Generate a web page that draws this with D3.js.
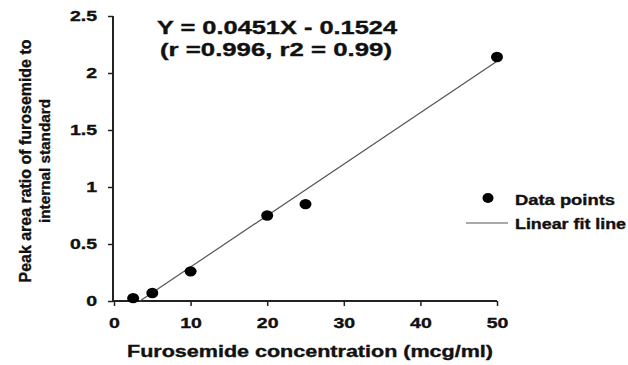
<!DOCTYPE html>
<html><head><meta charset="utf-8">
<script src="https://cdn.jsdelivr.net/npm/d3@7"></script>
<style>body{margin:0;background:#fff}svg{display:block}text{font-family:"Liberation Sans",Arial,sans-serif;font-weight:bold;fill:#111;stroke:#111;stroke-width:0.35px}</style>
</head><body><svg id="c" width="628" height="365"></svg>
<script>
const concentrations = [2.5, 5, 10, 20, 25, 50];
const ratios = [0.025, 0.07, 0.26, 0.75, 0.85, 2.14];
const slope = 0.0451, intercept = -0.1524;
const xTicks = [0, 10, 20, 30, 40, 50];
const yTicks = [0, 0.5, 1, 1.5, 2, 2.5];
const legendLabels = ["Data points", "Linear fit line"];

const svg = d3.select("#c");
const x = d3.scaleLinear().domain([0, 50]).range([114, 497]);
const y = d3.scaleLinear().domain([0, 2.5]).range([301, 16]);

function widen(sel, f) {
  sel.each(function () {
    const w = this.getComputedTextLength();
    d3.select(this).attr("textLength", w * f).attr("lengthAdjust", "spacingAndGlyphs");
  });
}

const xAxis = svg.append("g").attr("transform", "translate(0,301)")
  .call(d3.axisBottom(x).tickValues(xTicks).tickFormat(d3.format("d")).tickSizeOuter(0).tickSize(5));
xAxis.select(".domain").attr("d", "M113,0H497").attr("stroke", "#222").attr("stroke-width", 2);
xAxis.selectAll(".tick line").attr("stroke", "#222").attr("stroke-width", 1.5);
xAxis.selectAll(".tick text").attr("y", 27).attr("dy", 0).style("font-size", "15px").attr("fill", "#111");
widen(xAxis.selectAll(".tick text"), 1.3);

const yAxis = svg.append("g").attr("transform", "translate(113,0)")
  .call(d3.axisLeft(y).tickValues(yTicks).tickFormat(d => String(d)).tickSizeOuter(0).tickSize(5));
yAxis.select(".domain").attr("d", "M0,16V302").attr("stroke", "#222").attr("stroke-width", 2);
yAxis.selectAll(".tick line").attr("stroke", "#222").attr("stroke-width", 1.5);
yAxis.selectAll(".tick text").attr("x", -16).style("font-size", "15px").attr("fill", "#111");
widen(yAxis.selectAll(".tick text"), 1.3);

// fit line
const x0 = -intercept / slope;
svg.append("line")
  .attr("x1", x(x0)).attr("y1", y(0))
  .attr("x2", x(50)).attr("y2", y(slope * 50 + intercept))
  .attr("stroke", "#555").attr("stroke-width", 1.2);

// points
svg.selectAll("ellipse.pt").data(concentrations).join("ellipse")
  .attr("class", "pt")
  .attr("cx", d => x(d)).attr("cy", (d, i) => y(ratios[i]))
  .attr("rx", 6).attr("ry", 5.2).attr("fill", "#000");

// equation
svg.append("text").attr("x", 277).attr("y", 34).attr("text-anchor", "middle")
  .style("font-size", "18px").attr("textLength", 240).attr("lengthAdjust", "spacingAndGlyphs")
  .text("Y = 0.0451X - 0.1524");
svg.append("text").attr("x", 276).attr("y", 56).attr("text-anchor", "middle")
  .style("font-size", "18px").attr("textLength", 232).attr("lengthAdjust", "spacingAndGlyphs")
  .text("(r =0.996, r2 = 0.99)");

// legend
svg.append("ellipse").attr("cx", 488).attr("cy", 198).attr("rx", 5.5).attr("ry", 5).attr("fill", "#000");
svg.append("line").attr("x1", 466).attr("x2", 508).attr("y1", 223).attr("y2", 223)
  .attr("stroke", "#555").attr("stroke-width", 1.2);
svg.append("text").attr("x", 515).attr("y", 205).style("font-size", "14px")
  .attr("textLength", 100).attr("lengthAdjust", "spacingAndGlyphs").text(legendLabels[0]);
svg.append("text").attr("x", 515).attr("y", 229).style("font-size", "14px")
  .attr("textLength", 111).attr("lengthAdjust", "spacingAndGlyphs").text(legendLabels[1]);

// axis titles
svg.append("text").attr("x", 310).attr("y", 357).attr("text-anchor", "middle")
  .style("font-size", "16px").attr("textLength", 366).attr("lengthAdjust", "spacingAndGlyphs")
  .text("Furosemide concentration  (mcg/ml)");
const yt = svg.append("g").attr("transform", "translate(0,161) rotate(-90)");
yt.append("text").attr("x", 0).attr("y", 31).attr("text-anchor", "middle")
  .style("font-size", "16px").attr("textLength", 243).attr("lengthAdjust", "spacingAndGlyphs")
  .text("Peak area ratio of furosemide to");
yt.append("text").attr("x", 0).attr("y", 50).attr("text-anchor", "middle")
  .style("font-size", "15px").attr("textLength", 124).attr("lengthAdjust", "spacingAndGlyphs")
  .text("internal standard");
</script></body></html>
